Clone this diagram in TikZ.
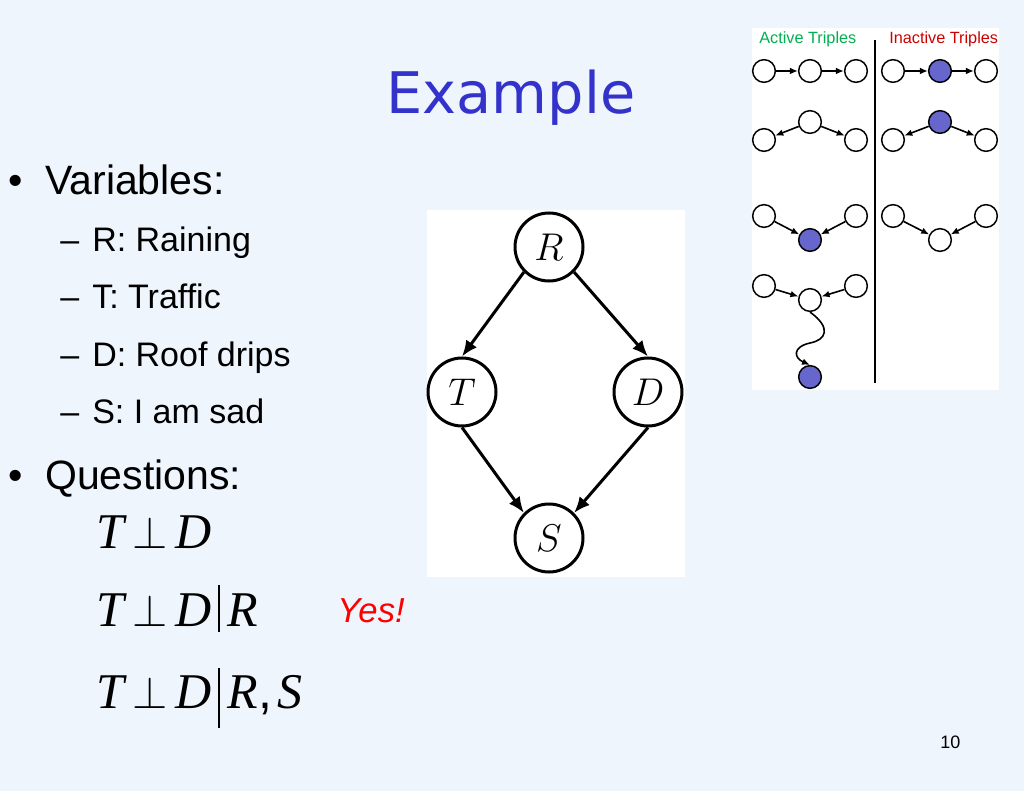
\documentclass[tikz,border=0pt]{standalone}
\usepackage{fix-cm}
\usepackage{fontspec}
\setmainfont{Liberation Sans}
\newfontfamily\titlefont{DejaVu Sans}
\newfontfamily\eqfont{Liberation Serif}
\usepackage{xcolor}
\usetikzlibrary{arrows.meta}
\definecolor{slidebg}{RGB}{238,245,252}
\definecolor{titleblue}{RGB}{51,51,204}
\definecolor{obsfill}{RGB}{102,102,204}
\definecolor{activegreen}{RGB}{0,176,80}
\definecolor{inactivered}{RGB}{204,0,0}
\newcommand{\eqv}[1]{{\eqfont\itshape #1}}
\newcommand{\indep}{\kern6pt{\fontsize{34}{36}\selectfont$\perp$}\kern6pt}

\begin{document}
\begin{tikzpicture}[x=0.75pt,y=-0.75pt,
                    bigtext/.style={anchor=base west,inner sep=0pt,font=\fontsize{30.75}{36}\selectfont},
                    subtext/.style={anchor=base west,inner sep=0pt,font=\fontsize{25.5}{30}\selectfont},
                    eqtext/.style={anchor=base west,inner sep=0pt,font=\fontsize{37.5}{44}\selectfont},
                    bn/.style={circle,draw,line width=2.25pt,minimum size=51pt,inner sep=0pt,fill=white,font=\fontsize{29}{29}\selectfont},
                    bnedge/.style={line width=2.25pt,-{Latex[length=12pt,width=10pt]}},
                    tri/.style={circle,draw,line width=1.1pt,minimum size=17pt,inner sep=0pt,fill=white},
                    obs/.style={tri,fill=obsfill},
                    triedge/.style={line width=1.2pt,-{Latex[length=6pt,width=5pt]}}]
    \fill[slidebg] (0,0) rectangle (1024,791);
    \useasboundingbox (0,0) rectangle (1024,791);
    \node[anchor=base,inner sep=0pt,text=titleblue,font=\titlefont\fontsize{43}{50}\selectfont] (title) at (511,114) {Example};
    \node[bigtext] (b1) at (8,195) {•};
    \node[bigtext] (vars) at (45,195) {Variables:};
    \node[subtext] (dr) at (60,252) {–};
    \node[subtext] (vr) at (92,252) {R: Raining};
    \node[subtext] (dt) at (60,309) {–};
    \node[subtext] (vt) at (92,309) {T: Traffic};
    \node[subtext] (dd) at (60,367) {–};
    \node[subtext] (vd) at (92,367) {D: Roof drips};
    \node[subtext] (ds) at (60,423) {–};
    \node[subtext] (vs) at (92,423) {S: I am sad};
    \node[bigtext] (b2) at (8,489) {•};
    \node[bigtext] (quest) at (45,489) {Questions:};
    \node[eqtext] (q1) at (96,548) {\eqv{T}\indep\eqv{D}};
    \node[eqtext] (q2) at (96,626) {\eqv{T}\indep\eqv{D}\kern5pt\rule[-4.5pt]{1.4pt}{35pt}\kern6pt\eqv{R}};
    \node[eqtext] (q3) at (96,708) {\eqv{T}\indep\eqv{D}\kern5pt\rule[-15pt]{1.4pt}{45pt}\kern6pt\eqv{R},\kern4pt\eqv{S}};
    \node[anchor=base west,inner sep=0pt,text=red,font=\fontsize{26}{30}\selectfont\itshape] (yes) at (337,622) {Yes!};
    \node[anchor=base west,inner sep=0pt,font=\fontsize{13.5}{16}\selectfont] (pagenum) at (940,748) {10};
    \fill[white] (427,210) rectangle (685,577);
    \node[bn] (R) at (549,247) {$R$};
    \node[bn] (T) at (462,392) {$T$};
    \node[bn] (D) at (648,392) {$D$};
    \node[bn] (S) at (549,538) {$S$};
    \draw[bnedge] (R.225) -- (T.north);
    \draw[bnedge] (R.-45) -- (D.north);
    \draw[bnedge] (T.south) -- (S.135);
    \draw[bnedge] (D.south) -- (S.45);
    \fill[white] (752,28) rectangle (999,390);
    \node[anchor=base west,inner sep=0pt,text=activegreen,font=\fontsize{12.2}{14}\selectfont] (act) at (759,44) {Active Triples};
    \node[anchor=base west,inner sep=0pt,text=inactivered,font=\fontsize{12.2}{14}\selectfont] (inact) at (889,44) {Inactive Triples};
    \draw[line width=2.2pt] (875,40) -- (875,383);
    \node[tri] (a1) at (764,71) {};
    \node[tri] (a2) at (810,71) {};
    \node[tri] (a3) at (856,71) {};
    \node[tri] (ia1) at (893,71) {};
    \node[obs] (ia2) at (940,71) {};
    \node[tri] (ia3) at (986,71) {};
    \draw[triedge] (a1) -- (a2);
    \draw[triedge] (a2) -- (a3);
    \draw[triedge] (ia1) -- (ia2);
    \draw[triedge] (ia2) -- (ia3);
    \node[tri] (c1) at (764,140) {};
    \node[tri] (c2) at (810,122) {};
    \node[tri] (c3) at (856,140) {};
    \node[tri] (ic1) at (893,140) {};
    \node[obs] (ic2) at (940,122) {};
    \node[tri] (ic3) at (986,140) {};
    \draw[triedge] (c2) -- (c1);
    \draw[triedge] (c2) -- (c3);
    \draw[triedge] (ic2) -- (ic1);
    \draw[triedge] (ic2) -- (ic3);
    \node[tri] (v1) at (764,216) {};
    \node[obs] (v2) at (810,240) {};
    \node[tri] (v3) at (856,216) {};
    \node[tri] (iv1) at (893,216) {};
    \node[tri] (iv2) at (940,240) {};
    \node[tri] (iv3) at (986,216) {};
    \draw[triedge] (v1) -- (v2);
    \draw[triedge] (v3) -- (v2);
    \draw[triedge] (iv1) -- (iv2);
    \draw[triedge] (iv3) -- (iv2);
    \node[tri] (w1) at (764,286) {};
    \node[tri] (w2) at (810,300) {};
    \node[tri] (w3) at (856,286) {};
    \node[obs] (w4) at (810,377) {};
    \draw[triedge] (w1) -- (w2);
    \draw[triedge] (w3) -- (w2);
    \draw[triedge] (w2.south) .. controls (832,328) and (826,340) .. (810,343) .. controls (792,347) and (794,358) .. (w4.north);
\end{tikzpicture}
\end{document}
